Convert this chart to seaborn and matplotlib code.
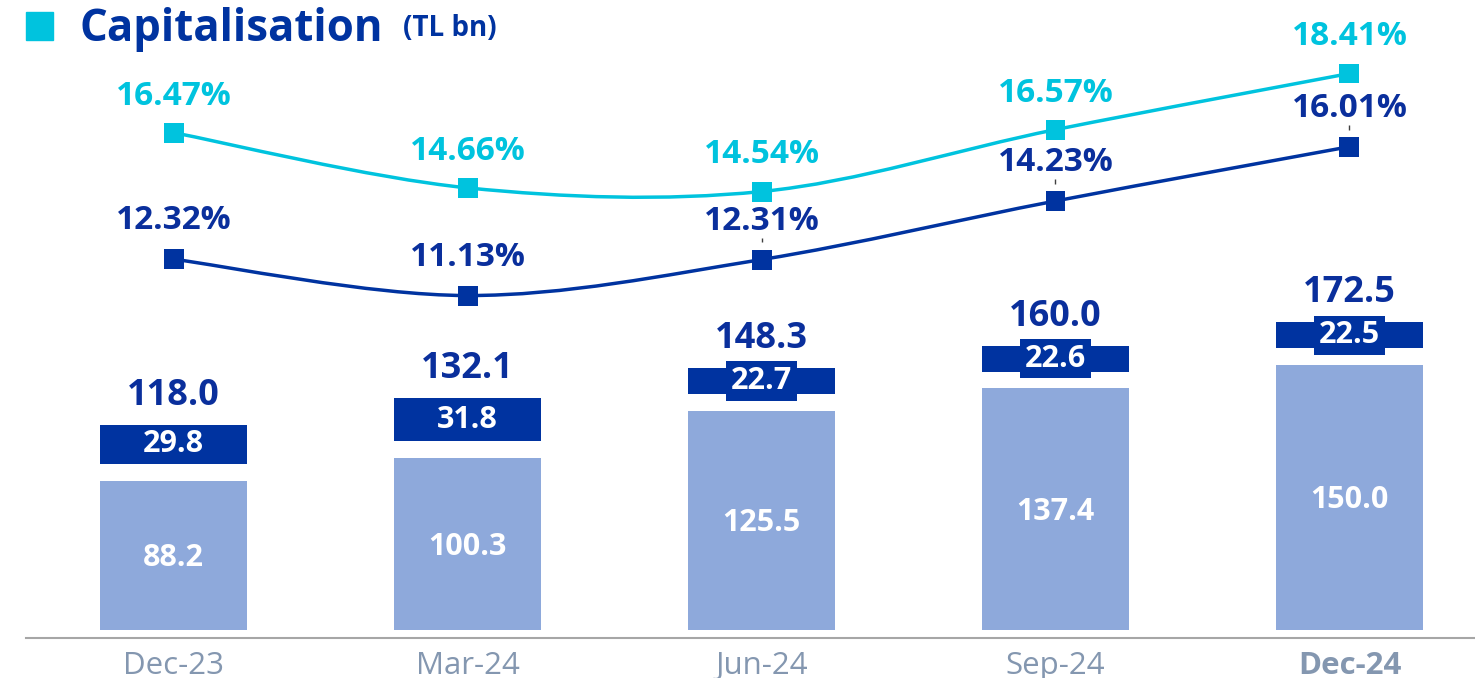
import numpy as np
import pandas as pd
import matplotlib
matplotlib.use("Agg")
import matplotlib.pyplot as plt
from matplotlib.path import Path
from matplotlib.patches import PathPatch, Rectangle
import seaborn as sns

# ---- data (TL bn and %) ----
quarters = ["Dec-23", "Mar-24", "Jun-24", "Sep-24", "Dec-24"]
core_capital = [88.2, 100.3, 125.5, 137.4, 150.0]
additional_capital = [29.8, 31.8, 22.7, 22.6, 22.5]
total_capital = [118.0, 132.1, 148.3, 160.0, 172.5]
car_ratio = [16.47, 14.66, 14.54, 16.57, 18.41]
tier1_ratio = [12.32, 11.13, 12.31, 14.23, 16.01]

# ---- style ----
NAVY = "#0033A0"
NAVY_TXT = "#0A2F9C"
LIGHT = "#8EA9DB"
CYAN = "#00C3DE"
TICK_CLR = "#8497B0"
GAP = 9.0  # white separation between the two stacked segments

sns.set_theme(style="white")
plt.rcParams["font.family"] = ["Open Sans", "DejaVu Sans"]

W, H = 1475, 678
fig = plt.figure(figsize=(W / 100, H / 100), dpi=100)
ax = fig.add_axes([26 / W, 48 / H, (W - 26) / W, 630 / H])

df = pd.DataFrame({
    "quarter": quarters,
    "core": core_capital,
    "extra": additional_capital,
    "total": total_capital,
})
df["gap_top"] = df["core"] + GAP

sns.barplot(data=df, x="quarter", y="total", order=quarters, color=NAVY,
            saturation=1, width=0.5, linewidth=0, ax=ax)
sns.barplot(data=df, x="quarter", y="gap_top", order=quarters, color="white",
            saturation=1, width=0.52, linewidth=0, ax=ax)
sns.barplot(data=df, x="quarter", y="core", order=quarters, color=LIGHT,
            saturation=1, width=0.5, linewidth=0, ax=ax)

ymin, ymax = 8.94, 344.0
ax.set_ylim(ymin, ymax)
ax.set_xlim(-0.502, 4.427)
ax.set_xlabel("")
ax.set_ylabel("")
ax.set_yticks([])
for s in ("top", "left", "right"):
    ax.spines[s].set_visible(False)
ax.spines["bottom"].set_position(("outward", 5.8))
ax.spines["bottom"].set_color("#A6A6A6")
ax.spines["bottom"].set_linewidth(1.5)
ax.tick_params(axis="x", length=0, pad=9, labelsize=22.5, labelcolor=TICK_CLR)
ax.get_xticklabels()[-1].set_fontweight("bold")

# bar labels
for i, (c, e, t) in enumerate(zip(core_capital, additional_capital, total_capital)):
    ax.annotate(f"{t:.1f}", (i, t), xytext=(0, 14.5), textcoords="offset points",
                ha="center", va="baseline", fontsize=26, fontweight="bold",
                color=NAVY_TXT)
    ax.text(i, (t + c + GAP) / 2, f"{e:.1f}", ha="center", va="center",
            fontsize=22, fontweight="bold", color="white",
            bbox=dict(boxstyle="square,pad=0.15", fc=NAVY, ec="none"))
    ax.annotate(f"{c:.1f}", (i, (c + ymin) / 2), xytext=(0, -2),
                textcoords="offset points", ha="center", va="center",
                fontsize=22, fontweight="bold", color="white")

# ratio lines on a secondary scale
ax2 = ax.twinx()
ax2.set_ylim(0.164, 20.82)
ax2.set_yticks([])
for s in ax2.spines.values():
    s.set_visible(False)


def smooth_path(xs, ys):
    pts = np.column_stack([xs, ys]).astype(float)
    ext = np.vstack([pts[0], pts, pts[-1]])
    verts, codes = [pts[0]], [Path.MOVETO]
    for k in range(len(pts) - 1):
        p0, p1, p2, p3 = ext[k], ext[k + 1], ext[k + 2], ext[k + 3]
        verts += [p1 + (p2 - p0) / 6, p2 - (p3 - p1) / 6, p2]
        codes += [Path.CURVE4] * 3
    return Path(verts, codes)


xpos = np.arange(len(quarters))
leader_idx = (2, 3, 4)
for vals, clr, off in ((car_ratio, CYAN, 20.2), (tier1_ratio, NAVY, 21.6)):
    ax2.add_patch(PathPatch(smooth_path(xpos, vals), fc="none", ec=clr,
                            lw=2.5, capstyle="round", zorder=3))
    sns.scatterplot(x=xpos, y=vals, marker="s", s=207, color=clr,
                    edgecolor="none", ax=ax2, zorder=4, legend=False)
    for i, v in enumerate(vals):
        ax2.annotate(f"{v:.2f}%", (i, v), xytext=(0, off),
                     textcoords="offset points", ha="center", va="baseline",
                     fontsize=24, fontweight="bold",
                     color=CYAN if clr == CYAN else NAVY_TXT)

for i in leader_idx:
    v = tier1_ratio[i]
    ax2.vlines(i, v + 0.56, v + 0.72, color="#404040", lw=1)

ax2.set_xlim(ax.get_xlim())

# title
fig.patches.append(Rectangle((26 / W, 1 - 40 / H), 27 / W, 28 / H,
                             transform=fig.transFigure, color=CYAN))
fig.text(80 / W, 1 - 41 / H, "Capitalisation", fontsize=31.5,
         fontweight="bold", color=NAVY, va="baseline")
fig.text(403 / W, 1 - 36 / H, "(TL bn)", fontsize=20,
         fontweight="bold", color=NAVY, va="baseline")

fig.savefig("out.png", dpi=100)
